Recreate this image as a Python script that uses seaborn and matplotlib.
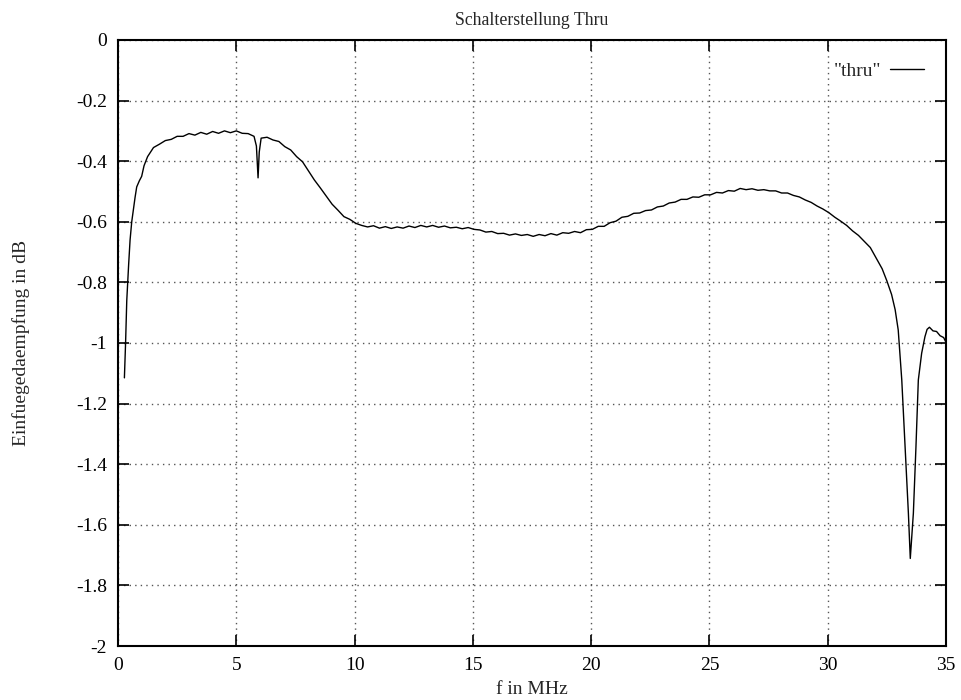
import matplotlib
matplotlib.use('Agg')
import pandas as pd
import matplotlib.pyplot as plt
import seaborn as sns

# frequency in MHz and insertion loss in dB
freq = [0.27, 0.32, 0.37, 0.45, 0.51, 0.58, 0.65, 0.72, 0.79, 0.9, 1.0, 1.1,
        1.25, 1.5, 1.75, 2.0, 2.25, 2.5, 2.75, 3.0, 3.25, 3.5, 3.75, 4.0, 4.25,
        4.5, 4.75, 5.0, 5.25, 5.5, 5.75, 5.85, 5.92, 5.97, 6.05, 6.3, 6.55,
        6.8, 7.05, 7.3, 7.55, 7.8, 8.05, 8.3, 8.55, 8.8, 9.05, 9.3, 9.55, 9.8,
        10.05, 10.3, 10.55, 10.8, 11.05, 11.3, 11.55, 11.8, 12.05, 12.3, 12.55,
        12.8, 13.05, 13.3, 13.55, 13.8, 14.05, 14.3, 14.55, 14.8, 15.05, 15.3,
        15.55, 15.8, 16.05, 16.3, 16.55, 16.8, 17.05, 17.3, 17.55, 17.8, 18.05,
        18.3, 18.55, 18.8, 19.05, 19.3, 19.55, 19.8, 20.05, 20.3, 20.55, 20.8,
        21.05, 21.3, 21.55, 21.8, 22.05, 22.3, 22.55, 22.8, 23.05, 23.3, 23.55,
        23.8, 24.05, 24.3, 24.55, 24.8, 25.05, 25.3, 25.55, 25.8, 26.05, 26.3,
        26.55, 26.8, 27.05, 27.3, 27.55, 27.8, 28.05, 28.3, 28.55, 28.8, 29.05,
        29.3, 29.55, 29.8, 30.05, 30.3, 30.55, 30.8, 31.05, 31.3, 31.55, 31.8,
        32.05, 32.3, 32.5, 32.7, 32.85, 32.98, 33.13, 33.27, 33.41, 33.49,
        33.62, 33.73, 33.83, 33.97, 34.11, 34.2, 34.3, 34.45, 34.6, 34.75,
        34.9, 35.0]
loss = [-1.115, -1.0, -0.86, -0.74, -0.66, -0.6, -0.56, -0.52, -0.485, -0.465,
        -0.45, -0.415, -0.385, -0.355, -0.344, -0.332, -0.328, -0.318, -0.318,
        -0.309, -0.314, -0.305, -0.311, -0.302, -0.308, -0.300, -0.306, -0.300,
        -0.308, -0.309, -0.318, -0.35, -0.455, -0.37, -0.324, -0.321, -0.330,
        -0.335, -0.352, -0.363, -0.385, -0.402, -0.432, -0.462, -0.488, -0.515,
        -0.542, -0.562, -0.583, -0.592, -0.605, -0.612, -0.617, -0.613, -0.621,
        -0.616, -0.622, -0.617, -0.621, -0.614, -0.619, -0.612, -0.617, -0.612,
        -0.618, -0.614, -0.620, -0.618, -0.623, -0.619, -0.625, -0.627, -0.634,
        -0.632, -0.639, -0.638, -0.644, -0.640, -0.645, -0.642, -0.648, -0.642,
        -0.646, -0.639, -0.644, -0.636, -0.638, -0.632, -0.636, -0.626, -0.625,
        -0.615, -0.615, -0.603, -0.598, -0.585, -0.582, -0.572, -0.571, -0.563,
        -0.561, -0.551, -0.548, -0.538, -0.535, -0.526, -0.526, -0.518, -0.519,
        -0.511, -0.511, -0.503, -0.505, -0.497, -0.499, -0.490, -0.494, -0.491,
        -0.496, -0.494, -0.498, -0.498, -0.505, -0.505, -0.513, -0.518, -0.528,
        -0.536, -0.548, -0.558, -0.570, -0.585, -0.598, -0.612, -0.630, -0.645,
        -0.665, -0.685, -0.72, -0.755, -0.795, -0.84, -0.89, -0.957, -1.122,
        -1.342, -1.562, -1.711, -1.562, -1.342, -1.122, -1.034, -0.979, -0.955,
        -0.948, -0.960, -0.962, -0.976, -0.982, -0.998]

x_ticks = [0, 5, 10, 15, 20, 25, 30, 35]
y_ticks = [0, -0.2, -0.4, -0.6, -0.8, -1, -1.2, -1.4, -1.6, -1.8, -2]
y_labels = ['0', '-0.2', '-0.4', '-0.6', '-0.8', '-1', '-1.2', '-1.4', '-1.6', '-1.8', '-2']

df = pd.DataFrame({'f': freq, 'dB': loss})

sns.set_style('ticks')
plt.rcParams['font.family'] = ['Liberation Serif', 'DejaVu Serif']

fig = plt.figure(figsize=(9.61, 7.0), dpi=100)
ax = fig.add_axes([0.1228, 0.0771, 0.8616, 0.8658])

sns.lineplot(data=df, x='f', y='dB', color='black', linewidth=1.0, label='"thru"', ax=ax)

ax.set_xlim(0, 35)
ax.set_ylim(-2, 0)
ax.set_xticks(x_ticks)
ax.set_xticklabels([str(t) for t in x_ticks])
ax.set_yticks(y_ticks)
ax.set_yticklabels(y_labels)
ax.grid(True, color='#555555', linestyle=(0, (1, 3)), linewidth=1.0)

ax.tick_params(direction='in', length=8, width=1.2, top=True, right=True,
               labelsize=14, colors='black')
ax.tick_params(axis='x', pad=8)
ax.tick_params(axis='y', pad=8)
for s in ax.spines.values():
    s.set_linewidth(1.5)
    s.set_color('black')

ax.set_title('Schalterstellung Thru', fontsize=12.8, pad=11)
ax.set_xlabel('f in MHz', fontsize=14, labelpad=5)
ax.set_ylabel('Einfuegedaempfung in dB', fontsize=14, labelpad=33)

leg = ax.legend(loc='upper right', frameon=False, markerfirst=False,
                fontsize=14, handlelength=1.75, handletextpad=0.45,
                borderaxespad=0.75)

plt.savefig('out.png', dpi=100)
